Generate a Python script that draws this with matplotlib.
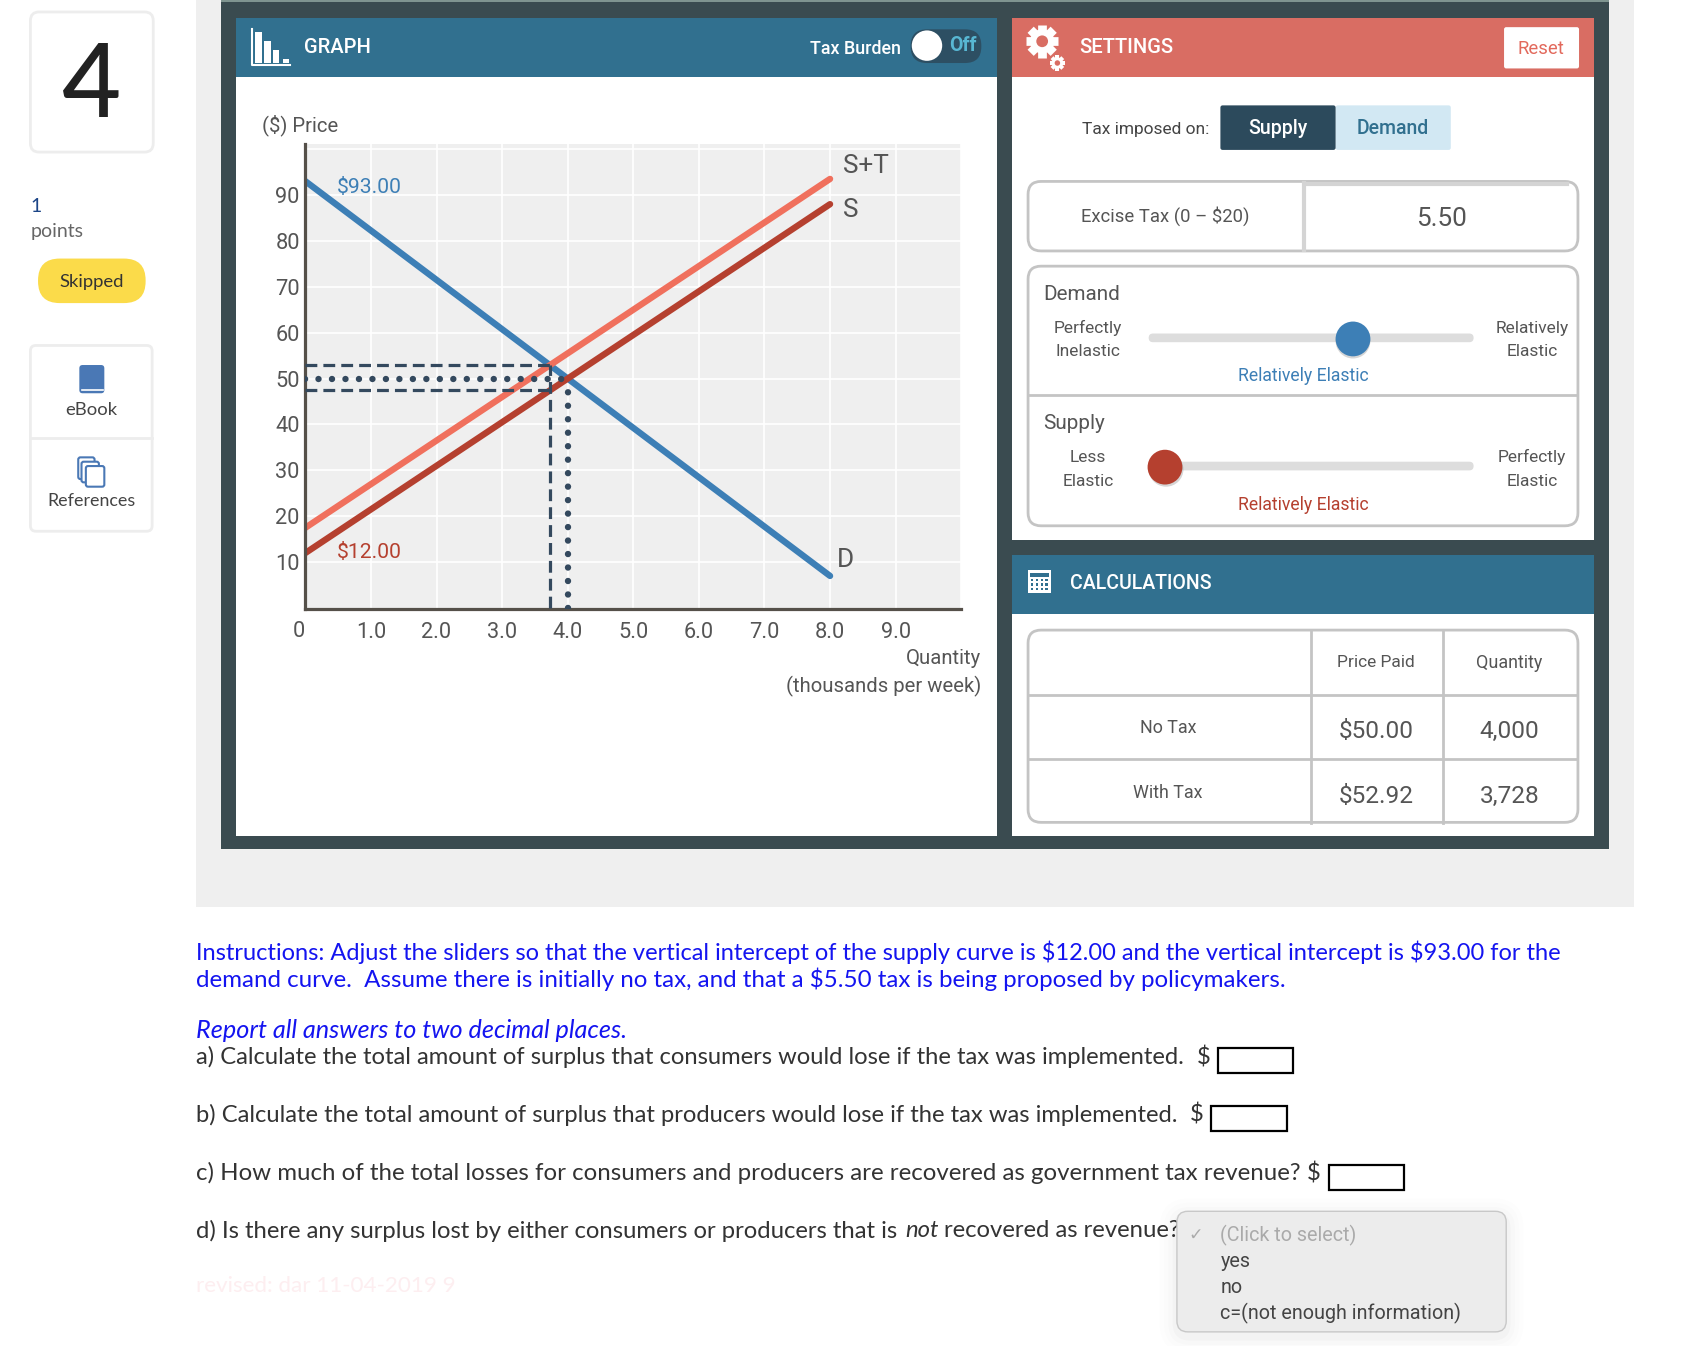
import matplotlib
matplotlib.use("Agg")
import matplotlib.pyplot as plt
from matplotlib.patches import Circle, FancyBboxPatch, Rectangle
import numpy as np

# chart values
qty_ends = [0, 8]
demand = [93, 7]
supply = [12, 88]
supply_tax = [17.5, 93.5]
eq_q, eq_p = 4.0, 50.0
tax_q, tax_paid, tax_net = 3.728, 52.92, 47.42
x_ticks = [1, 2, 3, 4, 5, 6, 7, 8, 9]
x_labels = ["1.0", "2.0", "3.0", "4.0", "5.0", "6.0", "7.0", "8.0", "9.0"]
y_ticks = [10, 20, 30, 40, 50, 60, 70, 80, 90]

table_rows = ["No Tax", "With Tax"]
price_paid = ["$50.00", "$52.92"]
quantity = ["4,000", "3,728"]

BLUE = "#3d7fb6"
RED = "#b5402f"
SALMON = "#f0705d"
NAVY = "#34495e"
HEADER = "#31708f"
CORAL = "#d96d63"
TEXT = "#555555"
UI = "Roboto"

W, H = 1568.0, 1239.0  # working in the coordinates of the preview
K = 1704 / W * 0.72  # px size -> points

fig = plt.figure(figsize=(17.04, 13.46), dpi=100)
bg = fig.add_axes([0, 0, 1, 1])
bg.set_xlim(0, W)
bg.set_ylim(H, 0)
bg.axis("off")


def rect(x0, y0, x1, y1, color, z=1, **kw):
    bg.add_patch(Rectangle((x0, y0), x1 - x0, y1 - y0, fc=color, ec="none", zorder=z, **kw))


def rbox(x0, y0, x1, y1, r=8, fc="white", ec="#c4c4c4", lw=2, z=2, **kw):
    p = FancyBboxPatch((x0, y0), x1 - x0, y1 - y0, boxstyle=f"round,pad=0,rounding_size={r}",
                       fc=fc, ec=ec, lw=lw, zorder=z, **kw)
    bg.add_patch(p)


def txt(x, y, s, size=18, color=TEXT, ha="center", font=UI, z=5, **kw):
    bg.text(x, y + 3, s, fontsize=size * K, color=color, ha=ha, va="center", family=font,
            zorder=z, parse_math=False, **kw)


def gear(cx, cy, r, hole):
    for a in np.arange(8) * np.pi / 4:
        bg.plot([cx, cx + r * np.cos(a)], [cy, cy + r * np.sin(a)], color="white",
                lw=r * 0.42, solid_capstyle="butt", zorder=4)
    bg.add_patch(Circle((cx, cy), r * 0.74, fc="white", zorder=4))
    bg.add_patch(Circle((cx, cy), r * 0.36, fc=hole, zorder=5))


# page background and panels
rect(180, 0, 1504, 834.5, "#efefef")
rect(203, 0, 1481, 781.5, "#3a4b50")
rect(203, 0, 1481, 1.5, "#7f9490", z=2)
rect(217, 16.5, 917, 769.5, "white", z=2)
rect(217, 16.5, 917, 70.5, HEADER, z=3)
rect(931, 16.5, 1467, 497, "white", z=2)
rect(931, 16.5, 1467, 70.5, CORAL, z=3)
rect(931, 511, 1467, 769.5, "white", z=2)
rect(931, 511, 1467, 565, HEADER, z=3)

# left column
rbox(28, 11, 141, 140, r=8, ec="#ededed")
txt(84, 78, "4", size=94, color="#222222", font="Lato", weight="medium")
txt(28, 187, "1", size=18, color="#1c4587", ha="left", font="Lato")
txt(28, 210, "points", size=18, color="#666666", ha="left", font="Lato")
rbox(35, 238, 134, 279, r=20, fc="#fbdb4a", ec="none", lw=0)
txt(84, 257, "Skipped", size=17, color="#333333", font="Lato")
rbox(28, 318, 140, 489, r=5, ec="#ededed")
bg.plot([28, 140], [403, 403], color="#ededed", lw=2, zorder=3)
rbox(73, 336, 96, 362, r=3, fc="#4a78b5", ec="none", lw=0)
bg.plot([75, 95], [359, 359], color="white", lw=1.2, zorder=3)
txt(84, 374, "eBook", size=17, color="#444444", font="Lato")
rbox(72, 421, 87, 441, r=2, fc="white", ec="#4a78b5", lw=1.5)
rbox(75, 425, 91, 444, r=2, fc="white", ec="#4a78b5", lw=1.5, z=3)
rbox(79, 429, 96, 448, r=2, fc="white", ec="#4a78b5", lw=1.5, z=4)
txt(84, 458, "References", size=16.5, color="#444444", font="Lato")

# graph header
bg.plot([232, 232, 267], [27, 60, 60], color="white", lw=1.5, zorder=4)
for bx, top in zip([235, 243, 251, 260], [29, 38, 46, 54]):
    rect(bx, top, bx + 6, 58, "white", z=4)
txt(280, 41, "GRAPH", size=18.5, color="white", ha="left", weight="medium")
txt(829, 42, "Tax Burden", size=16.5, color="white", ha="right", weight="medium")
rbox(838, 27, 903, 58, r=15, fc="#2d4f63", ec="none", lw=0, z=4)
bg.add_patch(Circle((853, 42), 14, fc="white", zorder=5))
txt(886, 39, "Off", size=18, color="#58b7d3", weight="bold")

# settings header
gear(959, 38, 15, CORAL)
gear(973, 58, 7, CORAL)
txt(993, 41, "SETTINGS", size=18.5, color="white", ha="left", weight="medium")
rbox(1384, 25, 1453, 63, r=2, ec="none", lw=0, z=4)
txt(1418, 42, "Reset", size=17, color="#e2695c")
txt(1113, 116, "Tax imposed on:", size=16, color="#444444", ha="right")
rbox(1229, 97, 1335, 138, r=2, fc="#d2e8f3", ec="none", lw=0)
rbox(1123, 97, 1229, 138, r=2, fc="#2c4a5c", ec="none", lw=0, z=3)
txt(1176, 115, "Supply", size=18, color="white", weight="medium")
txt(1282, 115, "Demand", size=18, color=HEADER, weight="medium")

# excise tax box
rbox(946, 167, 1452, 231, r=12)
bg.plot([1200, 1200], [168, 230], color="#d4d4d4", lw=3, zorder=3)
bg.plot([1202, 1442], [169, 169], color="#d4d4d4", lw=3, zorder=3)
txt(1072, 196, "Excise Tax (0 \u2013 $20)", size=17)
txt(1326, 199, "5.50", size=24)

# sliders
rbox(946, 245, 1452, 484, r=12)
bg.plot([947, 1451], [364, 364], color="#c4c4c4", lw=2, zorder=3)
txt(960, 268, "Demand", size=19, ha="left")
txt(1001, 299, "Perfectly", size=16)
txt(1001, 321, "Inelastic", size=16)
txt(1410, 299, "Relatively", size=16)
txt(1410, 321, "Elastic", size=16)
rbox(1057, 307, 1356, 315, r=4, fc="#dddddd", ec="none", lw=0)
bg.add_patch(Circle((1245, 314), 16, fc="#999999", alpha=0.4, zorder=3))
bg.add_patch(Circle((1245, 312), 16, fc=BLUE, zorder=4))
txt(1199, 343, "Relatively Elastic", size=16.2, color=BLUE)
txt(960, 387, "Supply", size=19, ha="left")
txt(1001, 418, "Less", size=16)
txt(1001, 440, "Elastic", size=16)
txt(1410, 418, "Perfectly", size=16)
txt(1410, 440, "Elastic", size=16)
rbox(1057, 425, 1356, 433, r=4, fc="#dddddd", ec="none", lw=0)
bg.add_patch(Circle((1073, 432), 16, fc="#999999", alpha=0.4, zorder=3))
bg.add_patch(Circle((1072, 430), 16, fc=RED, zorder=4))
txt(1199, 462, "Relatively Elastic", size=16.2, color=RED)

# calculations
rect(946, 525, 967, 546, "white", z=4)
rect(948, 527, 965, 531, HEADER, z=5)
for cx in [950, 954.5, 959, 963]:
    for cy in [534, 538, 542]:
        rect(cx - 1, cy - 1, cx + 1, cy + 1, HEADER, z=5)
txt(985, 534, "CALCULATIONS", size=18, color="white", ha="left", weight="medium")
rbox(946, 580, 1452, 757, r=12)
for vx in [1206, 1328]:
    bg.plot([vx, vx], [581, 758], color="#c4c4c4", lw=2, zorder=3)
for hy in [640, 699]:
    bg.plot([947, 1451], [hy, hy], color="#c4c4c4", lw=2, zorder=3)
txt(1266, 607, "Price Paid", size=16)
txt(1389, 607, "Quantity", size=16.5)
for i, yy in enumerate([668, 728]):
    txt(1075, yy - 1, table_rows[i], size=16.5)
    txt(1266, yy + 2, price_paid[i], size=22.5)
    txt(1389, yy + 2, quantity[i], size=22.5)

# the graph itself, on real axes
px0, px1, py0, py1 = 281, 884.5, 561, 133
ax = fig.add_axes([px0 / W, 1 - py0 / H, (px1 - px0) / W, (py0 - py1) / H], zorder=2)
ax.set_facecolor("#efefef")
ax.set_xlim(0, 10)
ax.set_ylim(-0.3, 101)
ax.set_xticks(x_ticks)
ax.set_xticklabels(x_labels)
ax.set_yticks(y_ticks)
ax.set_xticks([10], minor=True)
ax.set_yticks([100], minor=True)
ax.grid(color="white", lw=1.2, which="both")
ax.set_axisbelow(True)
ax.tick_params(which="both", length=0)
ax.tick_params(axis="x", pad=9.3, labelsize=20 * K, labelcolor=TEXT)
ax.tick_params(axis="y", pad=4, labelsize=20 * K, labelcolor=TEXT)
for lab in ax.get_xticklabels() + ax.get_yticklabels():
    lab.set_family(UI)
for side in ["top", "right"]:
    ax.spines[side].set_visible(False)
for side in ["left", "bottom"]:
    ax.spines[side].set_color("#555049")
    ax.spines[side].set_linewidth(2.3)

ax.plot(qty_ends, demand, color=BLUE, lw=4.6, solid_capstyle="round")
ax.plot(qty_ends, supply, color=RED, lw=4.6, solid_capstyle="round")
ax.plot(qty_ends, supply_tax, color=SALMON, lw=4.6, solid_capstyle="round")

dash = dict(color=NAVY, lw=2.3, dashes=(3.7, 1.9), zorder=3)
ax.plot([0, tax_q], [tax_paid, tax_paid], **dash)
ax.plot([0, tax_q], [tax_net, tax_net], **dash)
ax.plot([tax_q, tax_q], [0, tax_paid], **dash)
dots = dict(color=NAVY, lw=4.6, dashes=(0.01, 2.1), dash_capstyle="round", zorder=3)
ax.plot([0, eq_q], [eq_p, eq_p], **dots)
ax.plot([eq_q, eq_q], [0, eq_p], **dots)

ax.text(0.48, 91.7, "$93.00", color=BLUE, fontsize=19.5 * K, family=UI, va="center", parse_math=False)
ax.text(0.48, 12, "$12.00", color=RED, fontsize=19.5 * K, family=UI, va="center", parse_math=False)
ax.text(8.2, 96.3, "S+T", color=TEXT, fontsize=24 * K, family=UI, va="center")
ax.text(8.2, 86.7, "S", color=TEXT, fontsize=24 * K, family=UI, va="center")
ax.text(8.1, 10.5, "D", color=TEXT, fontsize=24 * K, family=UI, va="center")

txt(241, 112, "($) Price", size=18.6, ha="left")
txt(275, 578, "0", size=20)
txt(903, 603, "Quantity", size=18.6, ha="right")
txt(903, 629, "(thousands per week)", size=18.6, ha="right")

# question text below
BL = "#1414f0"
Q = "#333333"
FS = 22
txt(180, 874, "Instructions: Adjust the sliders so that the vertical intercept of the supply curve is $12.00 and the vertical intercept is $93.00 for the",
    size=21.75, color=BL, ha="left", font="Lato")
txt(180, 898, "demand curve.  Assume there is initially no tax, and that a $5.50 tax is being proposed by policymakers.",
    size=22.2, color=BL, ha="left", font="Lato")
txt(180, 946, "Report all answers to two decimal places.", size=23.3, color=BL, ha="left", font="Lato", style="italic")
txt(180, 970, "a) Calculate the total amount of surplus that consumers would lose if the tax was implemented.", size=21.9, color=Q, ha="left", font="Lato")
txt(1101, 970, "$", size=FS, color=Q, ha="left", font="Lato")
txt(180, 1023, "b) Calculate the total amount of surplus that producers would lose if the tax was implemented.", size=21.9, color=Q, ha="left", font="Lato")
txt(1095, 1023, "$", size=FS, color=Q, ha="left", font="Lato")
txt(180, 1077, "c) How much of the total losses for consumers and producers are recovered as government tax revenue?", size=22.1, color=Q, ha="left", font="Lato")
txt(1203, 1077, "$", size=FS, color=Q, ha="left", font="Lato")
txt(180, 1130, "d) Is there any surplus lost by either consumers or producers that is", size=FS, color=Q, ha="left", font="Lato")
txt(833, 1130, "not", size=FS, color=Q, ha="left", font="Lato", style="italic")
txt(869, 1130, "recovered as revenue?", size=FS, color=Q, ha="left", font="Lato")
for x0, y0, x1, y1 in [(1121, 965, 1190, 988), (1114, 1018, 1184, 1041), (1223, 1072, 1292, 1095)]:
    bg.add_patch(Rectangle((x0, y0), x1 - x0, y1 - y0, fc="white", ec="black", lw=1.6, zorder=3))
txt(180, 1181, "revised: dar 11-04-2019 9", size=20.7, color="#fdeef0", ha="left", font="Lato")

# dropdown over the last question
for grow, a in zip([16, 12, 8, 4], [0.006, 0.008, 0.012, 0.018]):
    rbox(1083 - grow, 1115 - grow + 4, 1386 + grow, 1226 + grow + 4, r=12 + grow, fc="black", ec="none", lw=0, z=6, alpha=a)
rbox(1083, 1115, 1386, 1226, r=10, fc="#ececec", ec="#c8c8c8", lw=1, z=7)
txt(1100, 1134, "\u2713", size=16, color="#aaaaaa", font="DejaVu Sans", z=8)
txt(1123, 1134, "(Click to select)", size=18.2, color="#aaaaaa", ha="left", z=8)
for yy, s in zip([1158, 1182, 1206], ["yes", "no", "c=(not enough information)"]):
    txt(1123, yy, s, size=18.2, color="#444444", ha="left", z=8)

fig.savefig("out.png", dpi=100)
